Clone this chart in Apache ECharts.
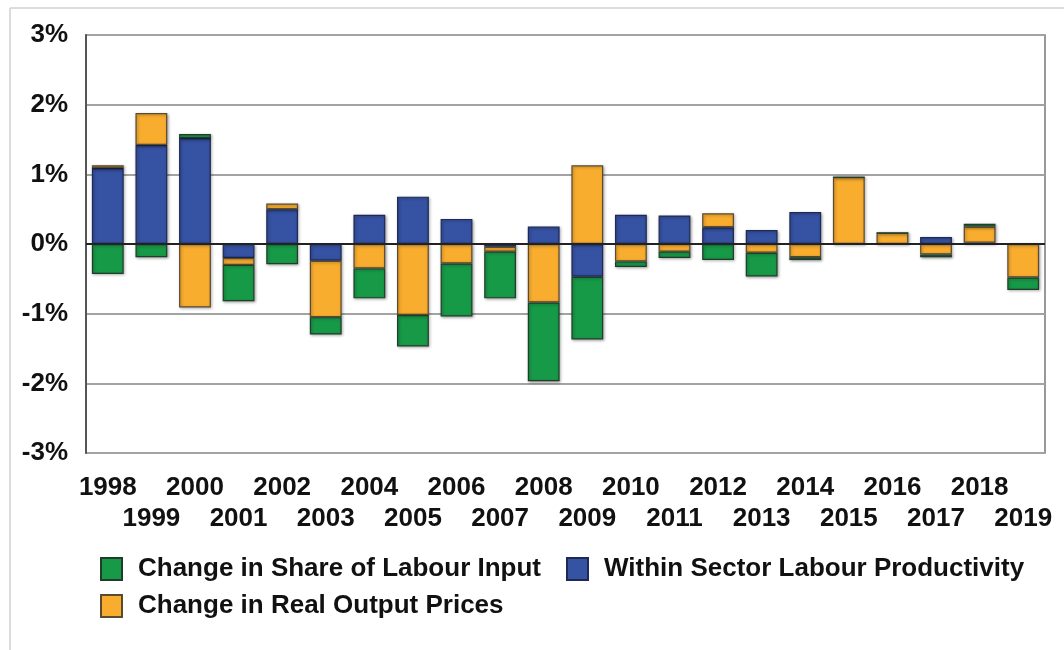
<!DOCTYPE html>
<html>
<head>
<meta charset="utf-8">
<script src="https://cdn.jsdelivr.net/npm/echarts@6/dist/echarts.min.js"></script>
<style>html,body{margin:0;padding:0;background:#fff;}#c{width:1064px;height:650px;}</style>
</head>
<body>
<div id="c"></div>
<script>
var years = ['1998','1999','2000','2001','2002','2003','2004','2005','2006','2007','2008','2009','2010','2011','2012','2013','2014','2015','2016','2017','2018','2019'];
var withinSector = [1.09, 1.42, 1.52, -0.20, 0.50, -0.24, 0.42, 0.68, 0.36, -0.04, 0.25, -0.47, 0.42, 0.41, 0.24, 0.20, 0.46, 0, 0, 0.10, 0.02, 0];
var realPrices = [0.04, 0.46, -0.91, -0.10, 0.08, -0.81, -0.35, -1.02, -0.28, -0.07, -0.84, 1.13, -0.25, -0.11, 0.20, -0.125, -0.19, 0.96, 0.16, -0.15, 0.23, -0.48];
var shareLabour = [-0.43, -0.19, 0.06, -0.52, -0.29, -0.25, -0.43, -0.45, -0.76, -0.67, -1.13, -0.90, -0.08, -0.09, -0.23, -0.34, -0.04, 0, 0, -0.04, 0.04, -0.18];
var yTicks = [-3, -2, -1, 0, 1, 2, 3];

var FONT = '"Liberation Sans", Arial, sans-serif';
var names = {
  share: 'Change in Share of Labour Input',
  within: 'Within Sector Labour Productivity',
  prices: 'Change in Real Output Prices'
};
function barStyle(color, border) {
  return {
    color: color, borderColor: border, borderWidth: 1.2,
    shadowColor: 'rgba(0,0,0,0.35)', shadowBlur: 3, shadowOffsetX: 1, shadowOffsetY: 1
  };
}
var legendText = {fontFamily: FONT, fontSize: 26, fontWeight: 'bold', color: '#111', padding: [10, 0, 0, 11]};
var chart = echarts.init(document.getElementById('c'), null, {renderer: 'canvas'});
chart.setOption({
  animation: false,
  backgroundColor: '#fff',
  graphic: [
    {type: 'line', shape: {x1: 10, y1: 8, x2: 1064, y2: 8}, style: {stroke: '#d0d0d0', lineWidth: 1.5}, silent: true},
    {type: 'line', shape: {x1: 10, y1: 8, x2: 10, y2: 650}, style: {stroke: '#d0d0d0', lineWidth: 1.5}, silent: true}
  ],
  grid: {left: 86, right: 19, top: 35, bottom: 197, show: true, borderColor: '#777', borderWidth: 1.5},
  legend: [
    {data: [names.share, names.within], left: 100, top: 556, padding: 0, itemWidth: 21, itemHeight: 22, itemGap: 25,
     icon: 'rect', textStyle: legendText},
    {data: [names.prices], left: 100, top: 593, padding: 0, itemWidth: 21, itemHeight: 22,
     icon: 'rect', textStyle: legendText}
  ],
  xAxis: {
    type: 'category', data: years, position: 'bottom',
    axisLine: {show: false, onZero: false}, axisTick: {show: false},
    axisLabel: {
      interval: 0, margin: 19, lineHeight: 31,
      fontFamily: FONT, fontSize: 26, fontWeight: 'bold', color: '#111',
      formatter: function (v, i) { return i % 2 ? '\n' + v : v; }
    }
  },
  yAxis: {
    type: 'value', min: yTicks[0], max: yTicks[yTicks.length - 1], interval: 1,
    axisLine: {show: true, lineStyle: {color: '#555', width: 2}},
    axisTick: {show: false},
    splitLine: {lineStyle: {color: '#a3a3a3', width: 2}},
    axisLabel: {margin: 18, fontFamily: FONT, fontSize: 26, fontWeight: 'bold', color: '#111',
      formatter: function (v) { return v + '%'; }}
  },
  series: [
    {name: names.within, type: 'bar', stack: 'total', data: withinSector, barCategoryGap: '27%',
     itemStyle: barStyle('#3652a3', '#1e2a55'),
     markLine: {silent: true, symbol: 'none', label: {show: false},
       lineStyle: {color: '#222', width: 2, type: 'solid'}, data: [{yAxis: 0}]}},
    {name: names.prices, type: 'bar', stack: 'total', data: realPrices, itemStyle: barStyle('#f9ad2f', '#5a4a30')},
    {name: names.share, type: 'bar', stack: 'total', data: shareLabour, itemStyle: barStyle('#179a48', '#1f3d28')}
  ]
});
</script>
</body>
</html>
